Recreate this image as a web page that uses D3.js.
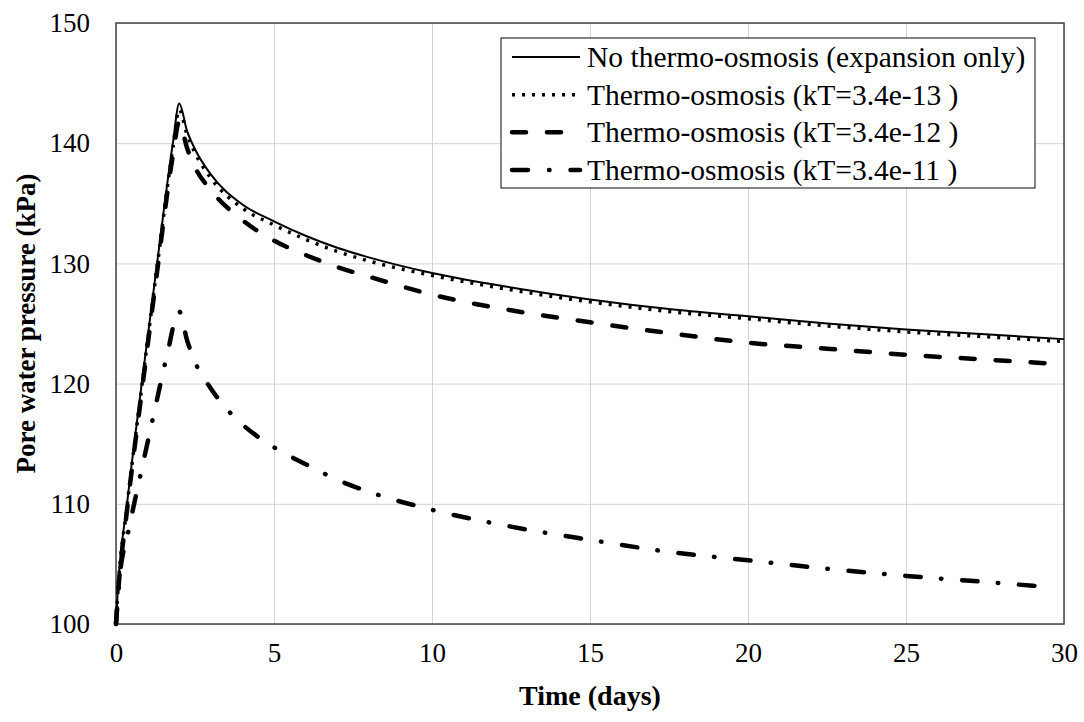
<!DOCTYPE html>
<html lang="en">
<head>
    <meta charset="UTF-8">
    <title>pore water pressure</title>
    <script src="https://d3js.org/d3.v7.min.js"></script>
    <style>
        body { margin: 0; background: #fff; }
    </style>
</head>
<body>
    <svg></svg>
    <script>
        const width = 1084;
        const height = 722;
        const font = 'Liberation Serif';

        // data
        const daysA = [0, 0.05, 0.35, 0.8, 1.3, 1.8, 2, 2.25, 2.5, 3, 4, 5, 6, 7, 8, 10, 12.5, 15, 17.5, 20, 22.5, 25, 27.5, 30];
        const noOsmosis = [100, 102.5, 110, 119.7, 130, 140, 143.3, 141, 139.5, 137.4, 134.9, 133.5, 132.3, 131.3, 130.5, 129.2, 128.0, 127.0, 126.2, 125.6, 125.0, 124.5, 124.1, 123.7];
        const kT13 = [100, 102.3, 109.8, 119.4, 129.7, 139.6, 142.8, 140.7, 139.2, 137.1, 134.6, 133.2, 132.0, 131.0, 130.2, 129.0, 127.8, 126.8, 126.0, 125.4, 124.8, 124.3, 123.9, 123.5];
        const kT12 = [100, 102, 109.5, 119, 129.3, 139, 141.8, 139.6, 138.0, 136.1, 133.6, 131.9, 130.7, 129.7, 128.9, 127.4, 126.1, 125.1, 124.2, 123.4, 122.9, 122.4, 122.0, 121.6];
        const daysB = [0, 0.1, 0.4, 0.8, 1.2, 1.6, 2, 2.25, 2.5, 3, 3.5, 4, 5, 6, 7, 8, 10, 12.5, 15, 17.5, 20, 22.5, 25, 27.5, 29.4];
        const kT11 = [100, 103.5, 107.8, 112.7, 117.5, 122.2, 126, 123.6, 121.8, 119.6, 117.9, 116.6, 114.7, 113.3, 112.0, 111.0, 109.5, 108.1, 107.0, 106.0, 105.3, 104.6, 104.0, 103.5, 103.1];

        const xTicks = [0, 5, 10, 15, 20, 25, 30];
        const yTicks = [100, 110, 120, 130, 140, 150];
        const labels = [
            'No thermo-osmosis (expansion only)',
            'Thermo-osmosis (kT=3.4e-13 )',
            'Thermo-osmosis (kT=3.4e-12 )',
            'Thermo-osmosis (kT=3.4e-11 )'
        ];

        const series = [
            { name: labels[0], days: daysA, values: noOsmosis, width: 2, dash: null, cap: 'butt' },
            { name: labels[1], days: daysA, values: kT13, width: 3.5, dash: '3,7', cap: 'butt' },
            { name: labels[2], days: daysA, values: kT12, width: 4.5, dash: '14,21', cap: 'round' },
            { name: labels[3], days: daysB, values: kT11, width: 4.5, dash: '15.5,20.25,0.5,20.75', cap: 'round' }
        ];

        const margin = { left: 116, right: 20, top: 23, bottom: 98 };
        const w = width - margin.left - margin.right;
        const h = height - margin.top - margin.bottom;

        const svg = d3.select('svg')
            .attr('width', width)
            .attr('height', height)
            .attr('font-family', font);

        const x = d3.scaleLinear().domain([0, 30]).range([0, w]);
        const y = d3.scaleLinear().domain([100, 150]).range([h, 0]);

        const g = svg.append('g')
            .attr('transform', `translate(${margin.left}, ${margin.top})`);

        // grid
        g.append('g')
            .call(d3.axisBottom(x).tickValues(xTicks).tickSize(h).tickFormat(''))
            .call(a => a.select('.domain').remove())
            .selectAll('line')
                .attr('stroke', '#d4d4d4');
        g.append('g')
            .call(d3.axisLeft(y).tickValues(yTicks).tickSize(-w).tickFormat(''))
            .call(a => a.select('.domain').remove())
            .selectAll('line')
                .attr('stroke', '#d4d4d4');

        // x axis labels
        const xAxis = g.append('g')
            .attr('transform', `translate(0, ${h})`)
            .call(d3.axisBottom(x).tickValues(xTicks).tickSize(0).tickPadding(19));
        xAxis.attr('font-family', font);
        xAxis.select('.domain').remove();
        xAxis.selectAll('text')
            .attr('font-family', font)
            .attr('font-size', 27)
            .attr('fill', '#000');

        // y axis labels
        const yAxis = g.append('g')
            .call(d3.axisLeft(y).tickValues(yTicks).tickSize(0).tickPadding(26));
        yAxis.attr('font-family', font);
        yAxis.select('.domain').remove();
        yAxis.selectAll('text')
            .attr('font-family', font)
            .attr('font-size', 27)
            .attr('fill', '#000');

        // frame
        g.append('rect')
            .attr('width', w)
            .attr('height', h)
            .attr('fill', 'none')
            .attr('stroke', '#444')
            .attr('stroke-width', 1.5);

        // curves
        const line = d3.line()
            .x(d => x(d[0]))
            .y(d => y(d[1]))
            .curve(d3.curveMonotoneX);

        series.forEach(s => {
            g.append('path')
                .datum(s.days.map((d, i) => [d, s.values[i]]))
                .attr('fill', 'none')
                .attr('stroke', '#000')
                .attr('stroke-width', s.width)
                .attr('stroke-linecap', s.cap)
                .attr('stroke-linejoin', 'round')
                .attr('stroke-dasharray', s.dash)
                .attr('d', line);
        });

        // axis titles
        svg.append('text')
            .attr('x', margin.left + w / 2)
            .attr('y', 705)
            .attr('text-anchor', 'middle')
            .attr('font-family', font)
            .attr('font-size', 28)
            .attr('font-weight', 'bold')
            .text('Time (days)');

        svg.append('text')
            .attr('transform', `translate(35, ${margin.top + h / 2}) rotate(-90)`)
            .attr('text-anchor', 'middle')
            .attr('font-family', font)
            .attr('font-size', 27)
            .attr('font-weight', 'bold')
            .text('Pore water pressure (kPa)');

        // legend
        const legend = svg.append('g');
        legend.append('rect')
            .attr('x', 501)
            .attr('y', 38)
            .attr('width', 534)
            .attr('height', 150)
            .attr('fill', '#fff')
            .attr('stroke', '#333')
            .attr('stroke-width', 1.2);

        const rowY = d3.scalePoint().domain(labels).range([57, 170]);
        series.forEach(s => {
            const ly = rowY(s.name);
            legend.append('line')
                .attr('x1', 512)
                .attr('x2', 580)
                .attr('y1', ly)
                .attr('y2', ly)
                .attr('stroke', '#000')
                .attr('stroke-width', s.width)
                .attr('stroke-linecap', s.cap)
                .attr('stroke-dasharray', s.name === labels[3] ? '16,21,0.5,21' : s.dash);
            legend.append('text')
                .attr('x', 587)
                .attr('y', ly)
                .attr('dy', '0.34em')
                .attr('font-family', font)
                .attr('font-size', 29.5)
                .text(s.name);
        });
    </script>
</body>
</html>
